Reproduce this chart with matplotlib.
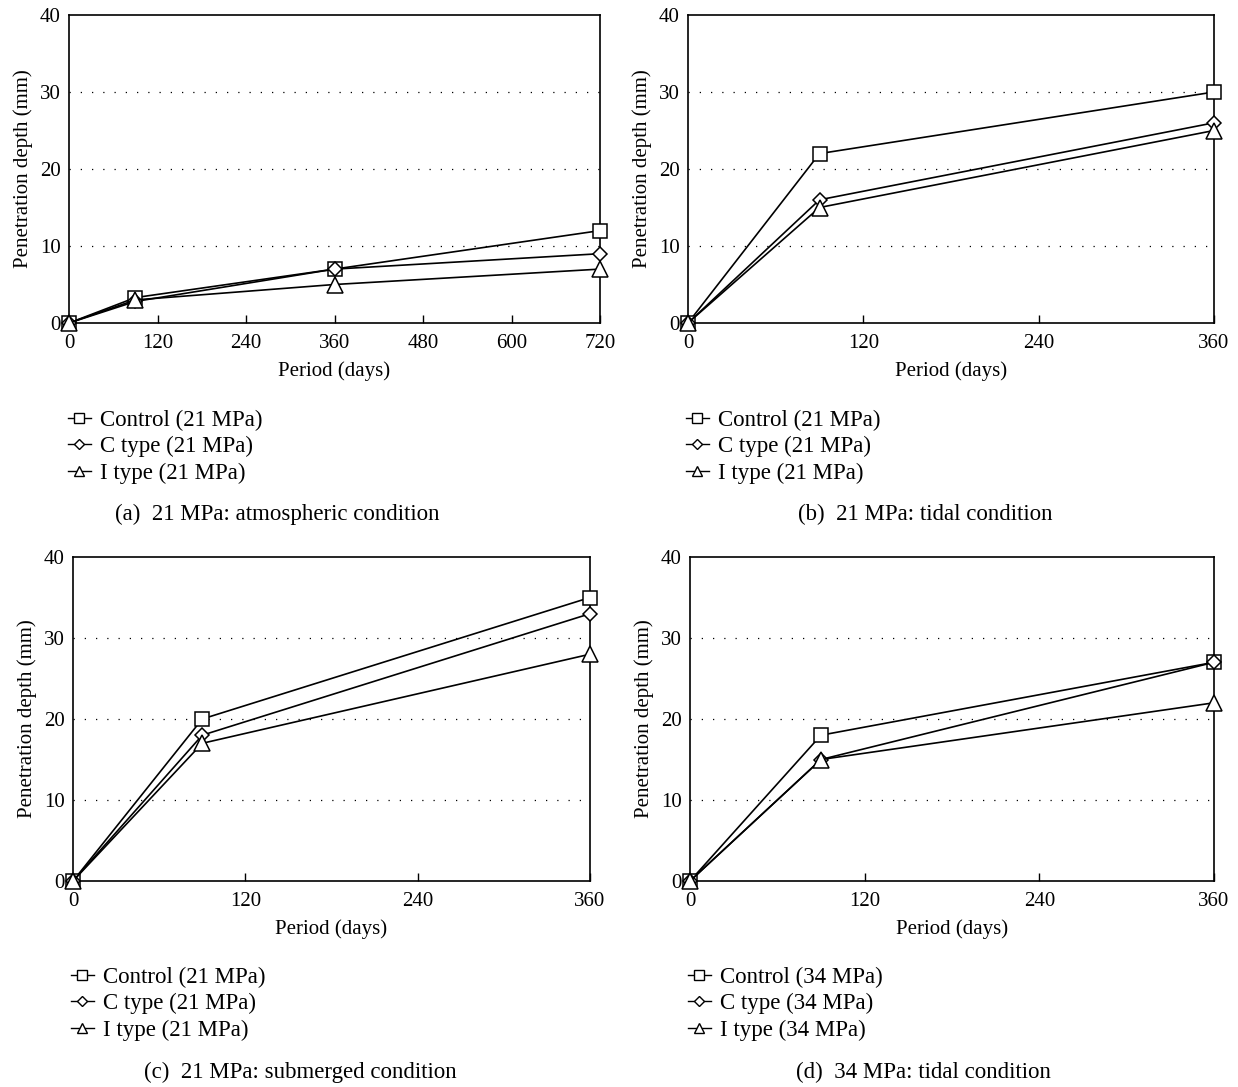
import matplotlib
matplotlib.use("Agg")
import matplotlib.pyplot as plt
from matplotlib.lines import Line2D

plt.rcParams['font.family'] = ['Liberation Serif', 'DejaVu Serif']

# period (days)
days_a = [0, 90, 360, 720]
days_bcd = [0, 90, 360]

# (a) 21 MPa atmospheric
ctrl_a = [0, 3.3, 7, 12]
ctype_a = [0, 2.8, 7, 9]
itype_a = [0, 3, 5, 7]
# (b) 21 MPa tidal
ctrl_b = [0, 22, 30]
ctype_b = [0, 16, 26]
itype_b = [0, 15, 25]
# (c) 21 MPa submerged
ctrl_c = [0, 20, 35]
ctype_c = [0, 18, 33]
itype_c = [0, 17, 28]
# (d) 34 MPa tidal
ctrl_d = [0, 18, 27]
ctype_d = [0, 15, 27]
itype_d = [0, 15, 22]

captions = ["(a)  21 MPa: atmospheric condition",
            "(b)  21 MPa: tidal condition",
            "(c)  21 MPa: submerged condition",
            "(d)  34 MPa: tidal condition"]
strengths = ["21", "21", "21", "34"]

W, H = 1238, 1087
fig = plt.figure(figsize=(W / 100, H / 100), dpi=100)

def box(l, r, t, b):
    return [l / W, 1 - b / H, (r - l) / W, (b - t) / H]

panels = [
    (box(69, 600, 15, 323), days_a, [ctrl_a, ctype_a, itype_a], 720, [0, 120, 240, 360, 480, 600, 720], (68, 420), 277, 514),
    (box(688, 1214, 15, 323), days_bcd, [ctrl_b, ctype_b, itype_b], 360, [0, 120, 240, 360], (686, 420), 925, 514),
    (box(73, 590, 557, 881), days_bcd, [ctrl_c, ctype_c, itype_c], 360, [0, 120, 240, 360], (71, 977), 300, 1072),
    (box(690, 1214, 557, 881), days_bcd, [ctrl_d, ctype_d, itype_d], 360, [0, 120, 240, 360], (688, 977), 923, 1072),
]

markers = ['s', 'D', '^']
names = ["Control", "C type", "I type"]

for i, (rect, x, series, xmax, xt, leg_xy, cap_x, cap_y) in enumerate(panels):
    ax = fig.add_axes(rect)
    for s, m, ms in zip(series, markers, [10, 7, 11]):
        ax.plot(x, s, color='black', lw=1.2, marker=m, ms=ms,
                mfc='white', mec='black', mew=1.1, clip_on=False, zorder=3)
    ax.set_xlim(0, xmax)
    ax.set_ylim(0, 40)
    ax.set_xticks(xt)
    ax.set_yticks([0, 10, 20, 30, 40])
    for yv in [10, 20, 30]:
        ax.axhline(yv, color='black', lw=0.9, ls=(0, (1, 8)), zorder=1)
    ax.tick_params(axis='x', direction='in', length=6, width=1, labelsize=15, pad=8, top=False)
    ax.tick_params(axis='y', length=0, labelsize=15, pad=6)
    for sp in ax.spines.values():
        sp.set_linewidth(1.2)
    ax.set_xlabel("Period (days)", fontsize=15, labelpad=6)
    ax.set_ylabel("Penetration depth (mm)", fontsize=15, labelpad=5)

    handles = [Line2D([0], [0], color='black', lw=1.0, marker=m, ms=ms, mfc='white', mec='black', mew=1.0)
               for m, ms in zip(markers, [7, 5.5, 7])]
    labels = [f"{n} ({strengths[i]} MPa)" for n in names]
    fig.legend(handles, labels, loc='upper left',
               bbox_to_anchor=(leg_xy[0] / W, 1 - (leg_xy[1] - 10) / H),
               frameon=False, fontsize=16.5, handlelength=1.0, handletextpad=0.4,
               labelspacing=0.22, borderaxespad=0, borderpad=0)
    fig.text(cap_x / W, 1 - cap_y / H, captions[i], ha='center', va='center', fontsize=16.5)

fig.savefig("out.png", dpi=100)
